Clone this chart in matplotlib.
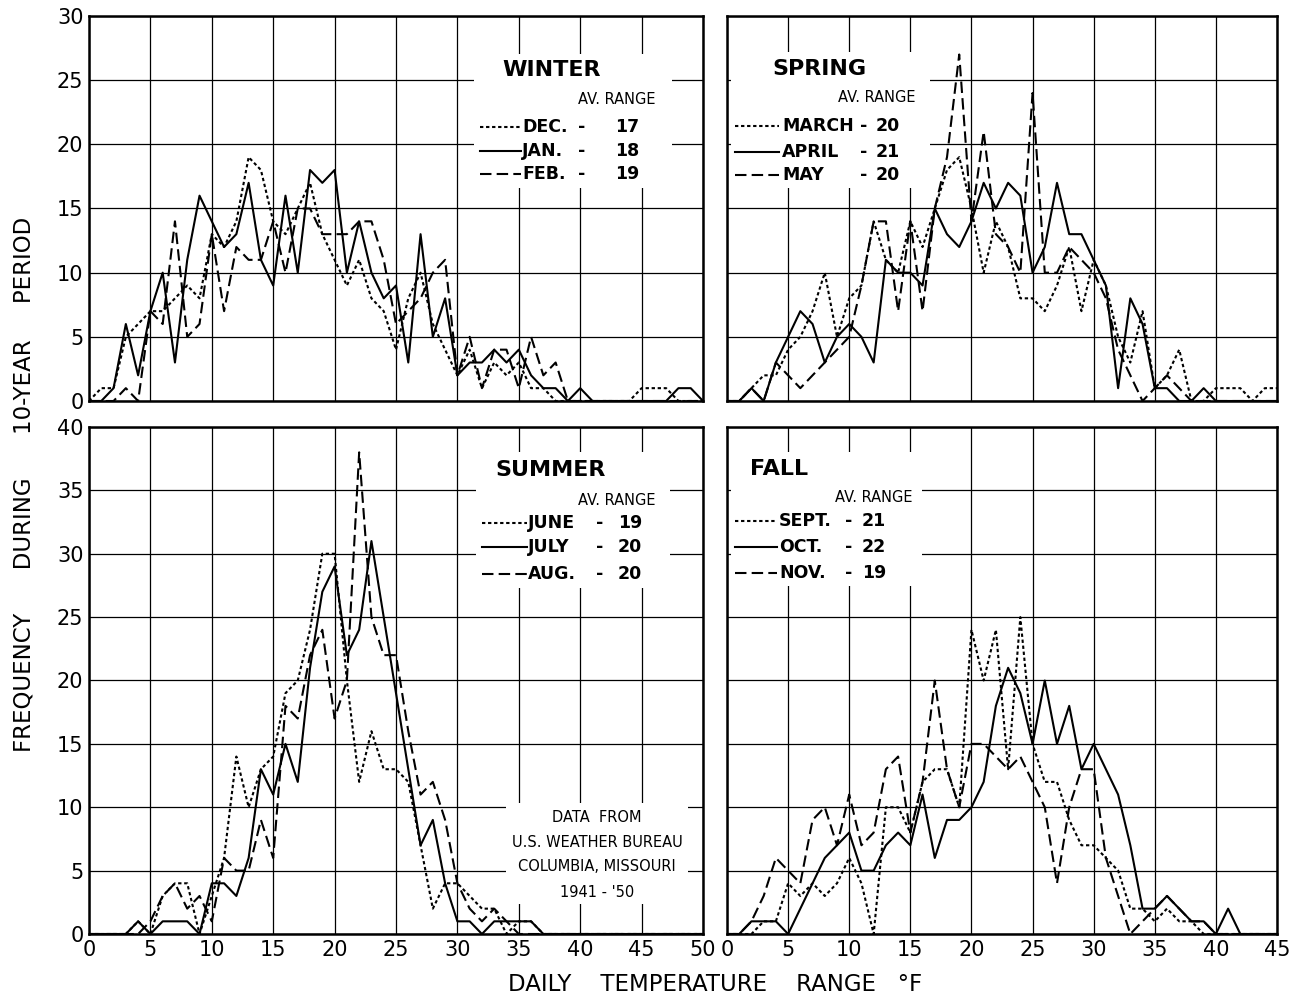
import numpy as np
import matplotlib
matplotlib.use("Agg")
import matplotlib.pyplot as plt
from matplotlib.lines import Line2D
from matplotlib.patches import Rectangle

# frequency of each daily temperature range (deg F), one value per degree
x_long = np.arange(0, 51)   # winter / summer panels
x_short = np.arange(0, 46)  # spring / fall panels

dec = [0, 1, 1, 5, 6, 7, 7, 8, 9, 8, 13, 12, 14, 19, 18, 14, 13, 15, 17, 13, 11, 9, 11, 8, 7, 4,
       8, 10, 6, 4, 2, 4, 1, 3, 2, 3, 1, 1, 0, 0, 0, 0, 0, 0, 0, 1, 1, 1, 0, 0, 0]
jan = [0, 0, 1, 6, 2, 7, 10, 3, 11, 16, 14, 12, 13, 17, 11, 9, 16, 10, 18, 17, 18, 10, 14, 10, 8, 9,
       3, 13, 5, 8, 2, 3, 3, 4, 3, 4, 2, 1, 1, 0, 1, 0, 0, 0, 0, 0, 0, 0, 1, 1, 0]
feb = [0, 0, 0, 1, 0, 7, 6, 14, 5, 6, 13, 7, 12, 11, 11, 14, 10, 15, 15, 13, 13, 13, 14, 14, 11, 6,
       7, 8, 10, 11, 2, 5, 1, 4, 4, 1, 5, 2, 3, 0, 0, 0, 0, 0, 0, 0, 0, 0, 0, 0, 0]

march = [0, 0, 1, 2, 2, 4, 5, 7, 10, 5, 8, 9, 14, 11, 10, 14, 12, 15, 18, 19, 15, 10, 14, 12, 8, 8,
         7, 9, 12, 7, 11, 9, 5, 3, 7, 1, 2, 4, 0, 0, 1, 1, 1, 0, 1, 1]
april = [0, 0, 1, 0, 3, 5, 7, 6, 3, 5, 6, 5, 3, 11, 10, 10, 9, 15, 13, 12, 14, 17, 15, 17, 16, 10,
         12, 17, 13, 13, 11, 9, 1, 8, 6, 1, 1, 0, 0, 1, 0, 0, 0, 0, 0, 0]
may = [0, 0, 1, 0, 3, 2, 1, 2, 3, 4, 5, 9, 14, 14, 7, 14, 7, 15, 19, 27, 14, 21, 13, 12, 10, 24,
       10, 10, 12, 11, 10, 8, 4, 2, 0, 1, 2, 1, 0, 0, 0, 0, 0, 0, 0, 0]

june = [0, 0, 0, 0, 1, 0, 3, 4, 4, 0, 3, 6, 14, 10, 13, 14, 19, 20, 24, 30, 30, 20, 12, 16, 13, 13,
        12, 7, 2, 4, 4, 3, 2, 2, 0, 1, 1, 0, 0, 0, 0, 0, 0, 0, 0, 0, 0, 0, 0, 0, 0]
july = [0, 0, 0, 0, 1, 0, 1, 1, 1, 0, 4, 4, 3, 6, 13, 11, 15, 12, 21, 27, 29, 22, 24, 31, 25, 19,
        13, 7, 9, 4, 1, 1, 0, 1, 1, 1, 1, 0, 0, 0, 0, 0, 0, 0, 0, 0, 0, 0, 0, 0, 0]
aug = [0, 0, 0, 0, 0, 1, 3, 4, 2, 3, 1, 6, 5, 5, 9, 6, 18, 17, 22, 24, 17, 20, 38, 25, 22, 22,
       16, 11, 12, 9, 4, 2, 1, 2, 1, 0, 0, 0, 0, 0, 0, 0, 0, 0, 0, 0, 0, 0, 0, 0, 0]

sept = [0, 0, 0, 1, 1, 4, 3, 4, 3, 4, 6, 4, 0, 10, 10, 8, 12, 13, 13, 10, 24, 20, 24, 13, 25, 15,
        12, 12, 9, 7, 7, 6, 5, 2, 2, 1, 2, 1, 1, 0, 0, 0, 0, 0, 0, 0]
octo = [0, 0, 1, 1, 1, 0, 2, 4, 6, 7, 8, 5, 5, 7, 8, 7, 11, 6, 9, 9, 10, 12, 18, 21, 19, 15,
        20, 15, 18, 13, 15, 13, 11, 7, 2, 2, 3, 2, 1, 1, 0, 2, 0, 0, 0, 0]
nov = [0, 0, 1, 3, 6, 5, 4, 9, 10, 7, 11, 7, 8, 13, 14, 8, 12, 20, 13, 10, 15, 15, 14, 13, 14, 12,
       10, 4, 10, 13, 13, 6, 3, 0, 1, 2, 3, 2, 1, 1, 0, 0, 0, 0, 0, 0]

W, H = 1296, 997
DOTTED = (0, (1.6, 1.3))
SOLID = '-'
DASHED = (0, (5.5, 2.5))


def rect(l, t, r, b):
    return [l / W, 1 - b / H, (r - l) / W, (b - t) / H]


def fx(x):
    return x / W


def fy(y):
    return 1 - y / H


def setup_axis(ax, xmax, ymax, xlabels, ylabels):
    ax.set_xlim(0, xmax)
    ax.set_ylim(0, ymax)
    ax.set_xticks(np.arange(0, xmax + 1, 5))
    ax.set_yticks(np.arange(0, ymax + 1, 5))
    ax.grid(True, color='black', lw=0.9)
    ax.set_axisbelow(True)
    ax.tick_params(length=0, labelsize=15, pad=4)
    if not xlabels:
        ax.set_xticklabels([])
    if not ylabels:
        ax.set_yticklabels([])
    for s in ax.spines.values():
        s.set_linewidth(1.8)


def blank_area(ax, l, t, r, b):
    # the original leaves the grid out behind its lettering
    ax.add_patch(Rectangle((fx(l), fy(b)), (r - l) / W, (b - t) / H, transform=ax.figure.transFigure,
                           facecolor='white', edgecolor='none', zorder=1))


def legend_block(fig, title, tx, ty, avx, avy, rows, sx0, sx1, name_x, dash_x, num_x):
    fig.text(fx(tx), fy(ty), title, fontsize=16, fontweight='bold', ha='left', va='center')
    fig.text(fx(avx), fy(avy), "AV. RANGE", fontsize=10.5, ha='left', va='center')
    for (ry, style, name, num) in rows:
        fig.add_artist(Line2D([fx(sx0), fx(sx1)], [fy(ry), fy(ry)], transform=fig.transFigure,
                              color='black', lw=1.5, linestyle=style))
        fig.text(fx(name_x), fy(ry), name, fontsize=12.5, fontweight='bold', ha='left', va='center')
        fig.text(fx(dash_x), fy(ry), "-", fontsize=12.5, fontweight='bold', ha='left', va='center')
        fig.text(fx(num_x), fy(ry), num, fontsize=12.5, fontweight='bold', ha='left', va='center')


fig = plt.figure(figsize=(12.96, 9.97), dpi=100)

ax_w = fig.add_axes(rect(89, 16, 703, 401))
ax_sp = fig.add_axes(rect(727, 16, 1277, 401))
ax_su = fig.add_axes(rect(89, 427, 703, 934))
ax_f = fig.add_axes(rect(727, 427, 1277, 934))

lw = 1.5
ax_w.plot(x_long, dec, color='black', lw=lw, linestyle=DOTTED, zorder=2)
ax_w.plot(x_long, jan, color='black', lw=lw, linestyle=SOLID, zorder=2)
ax_w.plot(x_long, feb, color='black', lw=lw, linestyle=DASHED, zorder=2)
setup_axis(ax_w, 50, 30, False, True)

ax_sp.plot(x_short, march, color='black', lw=lw, linestyle=DOTTED, zorder=2)
ax_sp.plot(x_short, april, color='black', lw=lw, linestyle=SOLID, zorder=2)
ax_sp.plot(x_short, may, color='black', lw=lw, linestyle=DASHED, zorder=2)
setup_axis(ax_sp, 45, 30, False, False)

ax_su.plot(x_long, june, color='black', lw=lw, linestyle=DOTTED, zorder=2)
ax_su.plot(x_long, july, color='black', lw=lw, linestyle=SOLID, zorder=2)
ax_su.plot(x_long, aug, color='black', lw=lw, linestyle=DASHED, zorder=2)
setup_axis(ax_su, 50, 40, True, True)

ax_f.plot(x_short, sept, color='black', lw=lw, linestyle=DOTTED, zorder=2)
ax_f.plot(x_short, octo, color='black', lw=lw, linestyle=SOLID, zorder=2)
ax_f.plot(x_short, nov, color='black', lw=lw, linestyle=DASHED, zorder=2)
setup_axis(ax_f, 45, 40, True, False)

blank_area(ax_w, 474, 54, 672, 188)
blank_area(ax_sp, 731, 52, 930, 188)
blank_area(ax_su, 476, 452, 670, 588)
blank_area(ax_f, 731, 452, 922, 586)
blank_area(ax_su, 506, 803, 688, 904)

# legends, drawn by hand like the original
legend_block(fig, "WINTER", 502, 70, 578, 99,
             [(127, DOTTED, "DEC.", "17"), (151, SOLID, "JAN.", "18"), (174, DASHED, "FEB.", "19")],
             480, 521, 522, 578, 615)
legend_block(fig, "SPRING", 772, 69, 838, 98,
             [(126, DOTTED, "MARCH", "20"), (152, SOLID, "APRIL", "21"), (175, DASHED, "MAY", "20")],
             735, 779, 782, 860, 876)
legend_block(fig, "SUMMER", 495, 470, 578, 500,
             [(523, DOTTED, "JUNE", "19"), (547, SOLID, "JULY", "20"), (574, DASHED, "AUG.", "20")],
             482, 527, 528, 596, 618)
legend_block(fig, "FALL", 750, 469, 835, 497,
             [(521, DOTTED, "SEPT.", "21"), (547, SOLID, "OCT.", "22"), (573, DASHED, "NOV.", "19")],
             735, 777, 779, 845, 862)

for txt, yy in [("DATA  FROM", 817), ("U.S. WEATHER BUREAU", 842),
                ("COLUMBIA, MISSOURI", 866), ("1941 - '50", 892)]:
    fig.text(fx(597), fy(yy), txt, fontsize=10.5, ha='center', va='center')

fig.text(fx(24), fy(484), "FREQUENCY      DURING      10-YEAR     PERIOD", fontsize=16.5,
         rotation=90, ha='center', va='center')
fig.text(fx(715), fy(984), "DAILY    TEMPERATURE    RANGE   °F", fontsize=16.5,
         ha='center', va='center')

fig.savefig("out.png", dpi=100)
